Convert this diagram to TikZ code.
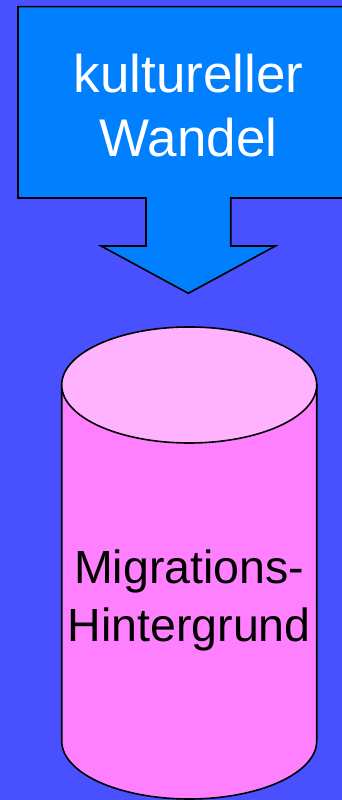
\documentclass[tikz,border=0pt]{standalone}
\usepackage{fontspec}
\setmainfont{Liberation Sans}
\definecolor{bgblue}{RGB}{72,80,255}
\definecolor{arrowblue}{RGB}{0,128,255}
\definecolor{cylbody}{RGB}{255,128,255}
\definecolor{cyltop}{RGB}{255,179,255}
\begin{document}
\begin{tikzpicture}[x=1pt,y=1pt,
  outline/.style={draw=black,line width=1.6pt,line join=miter},
  toplabel/.style={text=white,align=center,inner sep=0pt,font=\fontsize{53}{64.4}\selectfont},
  cyllabel/.style={text=black,align=center,inner sep=0pt,font=\fontsize{46.5}{57.7}\selectfont}]
\useasboundingbox (0,0) rectangle (342,800);
\fill[bgblue] (0,0) rectangle (342,800);
\begin{scope}
\clip (0,0) rectangle (342,800);
% callout arrow
\path[outline,fill=arrowblue]
  (18,793.3) -- (358.6,793.3) -- (358.6,602) -- (230.7,602) -- (230.7,554)
  -- (275.5,554) -- (188.3,506.7) -- (101.1,554) -- (146,554) -- (146,602)
  -- (18,602) -- cycle;
\end{scope}
\node[toplabel,anchor=base] (kw) at (188.5,643.3) {kultureller\\Wandel};
% cylinder
\path[outline,fill=cylbody]
  (61.7,415) -- (61.7,59) arc[start angle=180,end angle=360,x radius=127.5,y radius=58]
  -- (316.7,415) -- cycle;
\path[outline,fill=cyltop] (189.2,415) ellipse[x radius=127.5,y radius=58];
\node[cyllabel,anchor=base] (mh) at (189.2,158.3) {Migrations-\\Hintergrund};
\end{tikzpicture}
\end{document}
